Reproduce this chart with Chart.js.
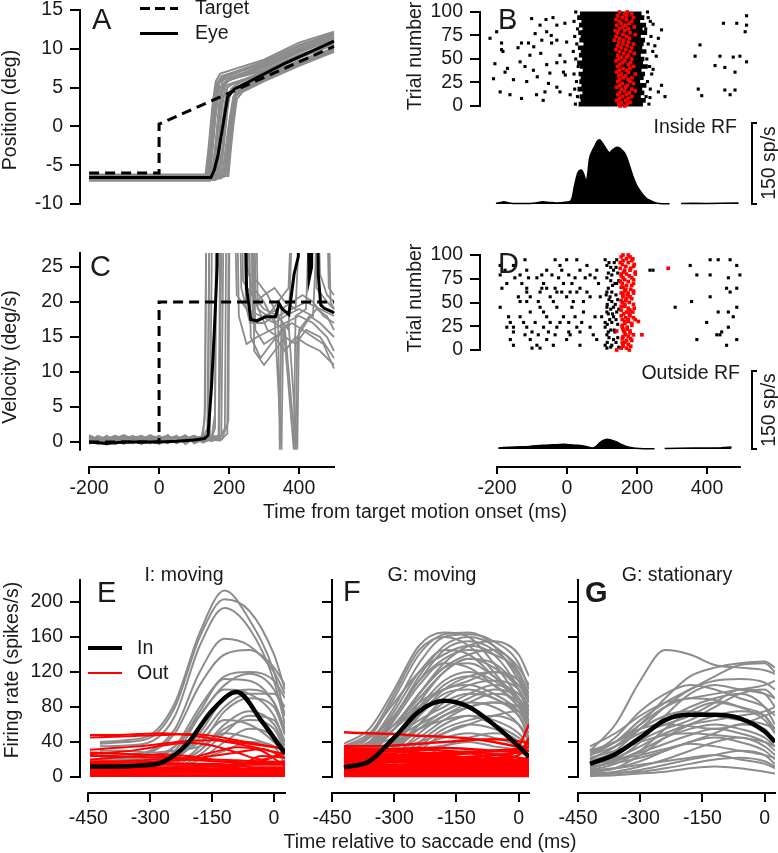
<!DOCTYPE html>
<html>
<head>
<meta charset="utf-8">
<script src="https://cdn.jsdelivr.net/npm/chart.js@4.4.0/dist/chart.umd.min.js"></script>
<style>
  html, body { margin: 0; padding: 0; background: #fff; overflow: hidden; }
  body { position: relative; width: 778px; height: 853px; font-family: "Liberation Sans", Arial, sans-serif; color: #1a1a1a; }
  canvas { position: absolute; }
  .lbl { position: absolute; white-space: nowrap; line-height: 1; }
  .key { position: absolute; }
</style>
</head>
<body>
<script>
// ---------- data ----------
// Panel A: position (deg) vs time (ms), pairs of [t, v]
const aTarget = [-200, -6, 0, -6, 0, 0.3, 500, 10.3];
const aEye = [-200, -6.6, 148, -6.6, 158, -5.6, 168, -3.8, 182, 0, 196, 3.8, 215, 4.8, 358, 8.1, 500, 11];
const aTrials = [
  [-200, -6.4, 135, -6.4, 145, -3, 155, 2, 165, 5.5, 180, 6.5, 300, 8, 400, 10, 500, 11.8],
  [-200, -6.8, 140, -6.8, 150, -3.5, 160, 1, 172, 4.8, 190, 5.8, 300, 7.5, 400, 9.5, 500, 11.2],
  [-200, -6.5, 150, -6.5, 160, -3, 170, 1.5, 182, 5, 200, 6, 300, 7.2, 400, 9.2, 500, 10.8],
  [-200, -6.9, 160, -6.9, 170, -2, 180, 2.5, 190, 5.2, 210, 5.6, 300, 6.8, 400, 8.8, 500, 10.5],
  [-200, -6.3, 170, -6.3, 180, -3, 190, 1, 200, 4.2, 215, 5, 300, 6.5, 400, 8.5, 500, 10],
  [-200, -6.6, 180, -6.6, 190, -3, 200, 0.5, 212, 3.8, 225, 4.6, 300, 6.2, 400, 8.2, 500, 9.6],
  [-200, -6.2, 190, -6.2, 200, -2.5, 210, 1.5, 220, 4, 235, 4.8, 300, 6, 400, 8, 500, 9.8],
  [-200, -7, 145, -7, 155, -2, 165, 3, 175, 6.2, 190, 6.6, 300, 8.4, 400, 10.5, 500, 12],
  [-200, -6.5, 155, -6.5, 165, -2, 175, 2.5, 185, 5.4, 200, 5.9, 300, 7.8, 400, 9.8, 500, 11.5],
  [-200, -6.7, 175, -6.7, 185, -2.5, 195, 2, 205, 4.8, 220, 5.4, 300, 7, 400, 9, 500, 10.8],
  [-200, -6.4, 198, -6.4, 205, -3, 212, 0, 222, 3.5, 240, 4.5, 300, 5.8, 400, 7.8, 500, 9.6],
  [-200, -6.6, 132, -6.6, 142, -2.5, 152, 2.5, 162, 5.8, 175, 6.8, 300, 8.6, 400, 10.8, 500, 12.2],
  [-200, -6.3, 138, -6.3, 148, -2.8, 158, 2.2, 168, 5.6, 185, 6.3, 300, 8.2, 400, 10.3, 500, 11.9],
  [-200, -6.8, 165, -6.8, 175, -2.5, 185, 2, 195, 5, 212, 5.5, 300, 7.1, 400, 9.1, 500, 10.6],
  [-200, -6.5, 185, -6.5, 195, -3, 205, 1, 216, 4.2, 230, 4.9, 300, 6.4, 400, 8.4, 500, 10.1],
  [-200, -6.9, 152, -6.9, 162, -2.2, 172, 3, 182, 6, 198, 6.2, 300, 7.9, 400, 10, 500, 11.6],
  [-200, -6.4, 195, -6.4, 202, -3.2, 210, 0.8, 220, 3.9, 238, 4.6, 300, 6.1, 400, 8.1, 500, 9.9],
  [-200, -6.6, 142, -6.6, 152, -2.6, 162, 2.4, 172, 5.7, 188, 6.1, 300, 7.7, 400, 9.7, 500, 11.4]
];

// Panel C: velocity (deg/s); 60 = off the top of the plot
const cTarget = [-200, 0, 0, 0, 0, 20, 500, 20];
const cEye = [-200, 0, -150, -0.2, -100, 0, -50, 0, 0, 0, 50, 0.1, 100, 0.3, 130, 0.5, 140, 1, 150, 8, 158, 16, 166, 25, 172, 60,
  238, 60, 250, 22, 262, 17.5, 280, 17.3, 305, 17.9, 333, 17.9, 343, 19.8, 352, 19, 362, 18.6, 371, 18.2, 386, 24, 398, 26.5,
  405, 60, 418, 60, 429, 23.3, 436, 25, 443, 60, 448, 60, 455, 24, 462, 19.6, 472, 19.1, 495, 18.6, 500, 18.4];
const cTrials = [
  [-200, 0.5, -175, -0.3, -150, 0.9, -125, 0.1, -100, 0.6, -75, -0.2, -50, 0.7, -25, 0, 0, 0.5, 25, -0.1, 50, 0.6, 75, 0.2, 100, 0.5, 120, 0.3, 130, 3, 140, 60, 215, 60, 228, 18, 250, 14, 280, 15, 320, 16, 360, 17, 400, 18, 440, 17, 480, 15, 500, 13],
  [-200, -0.3, -175, 0.6, -150, 0, -125, 0.8, -100, -0.2, -75, 0.5, -50, 0.1, -25, 0.9, 0, -0.3, 25, 0.5, 50, 0.1, 75, 0.8, 100, 0, 125, 0.4, 138, 2, 150, 60, 222, 60, 235, 22, 260, 17, 300, 18, 340, 19, 345, -1.1, 350, 19, 380, 20, 410, 21, 440, 20, 470, 18, 500, 17],
  [-200, 0.8, -175, 0.2, -150, -0.4, -125, 0.5, -100, 1, -75, 0.3, -50, -0.3, -25, 0.6, 0, 0.2, 25, 1, 50, -0.2, 75, 0.4, 100, 0.9, 125, 0.1, 145, 0.5, 158, 60, 235, 60, 248, 20, 270, 22, 300, 20, 330, 17, 360, 16, 390, -1.1, 395, 15, 420, 17, 450, 19, 480, 18, 500, 16],
  [-200, 0, -175, 0.9, -150, 0.4, -125, -0.3, -100, 0.4, -75, 0.9, -50, 0.2, -25, -0.2, 0, 0.8, 25, 0.3, 50, 0.9, 75, -0.3, 100, 0.5, 125, 0.7, 150, 0.6, 160, 4, 168, 60, 245, 60, 258, 24, 280, 23, 310, 21, 340, 18, 370, 16, 400, 60, 430, 60, 450, 22, 480, 20, 500, 19],
  [-200, 0.3, -175, -0.2, -150, 0.7, -125, 0.2, -100, -0.3, -75, 0.6, -50, 0.9, -25, 0.3, 0, -0.1, 25, 0.7, 50, 0.3, 75, 1, 100, -0.2, 125, 0.3, 150, 0.2, 170, 1, 180, 60, 250, 60, 262, 15, 290, 12, 320, 14, 350, 16, 380, 17, 410, 16, 440, 15, 470, 14, 500, 10.5],
  [-200, 1, -175, 0.4, -150, 0.1, -125, 0.9, -100, 0.3, -75, -0.1, -50, 0.4, -25, 1, 0, 0.4, 25, -0.2, 50, 0.5, 75, 0.3, 100, 0.8, 125, -0.1, 150, 0.4, 175, 0.6, 188, 2, 196, 60, 255, 60, 268, 17, 300, 17, 330, 18, 350, -1.1, 355, 17, 385, -1.1, 390, 18, 420, 19, 450, 60, 475, 60, 490, 20, 500, 19],
  [-200, -0.2, -175, 0.3, -150, 0.6, -125, 0, -100, 0.7, -75, 0.2, -50, -0.1, -25, 0.4, 0, 0.7, 25, 0.2, 50, -0.1, 75, 0.6, 100, 0.2, 125, 0.8, 150, 0.3, 175, 0.2, 195, 1.2, 203, 60, 260, 60, 272, 13, 300, 11, 330, 13, 360, 15, 390, 14, 420, 16, 460, 15, 500, 12],
  [-200, 0.6, -175, 0.1, -150, 0.3, -125, 0.7, -100, 0.1, -75, 0.4, -50, 0.6, -25, -0.1, 0, 0.3, 25, 0.8, 50, 0.2, 75, 0.1, 100, 0.6, 125, 0.5, 132, 5, 138, 60, 205, 60, 222, 21, 250, 19, 290, 18, 330, 17, 360, 18, 400, 19, 440, 18, 480, 60, 500, 60],
  [-200, 0.2, -175, 0.7, -150, -0.2, -125, 0.4, -100, 0.5, -75, 0, -50, 0.5, -25, 0.2, 0, 0.6, 25, 0, 50, 0.4, 75, 0.6, 100, 0.3, 125, 0.2, 150, 0.5, 160, 2, 165, 60, 240, 60, 252, 25, 275, 20, 310, 16, 340, 15, 370, 17, 395, -1.1, 400, 16, 430, 18, 460, 17, 500, 15],
  [-200, 0.4, -175, 0.5, -150, 0.2, -125, 0.3, -100, 0.8, -75, 0.7, -50, 0, -25, 0.5, 0, 0.1, 25, 0.4, 50, 0.7, 75, 0.5, 100, 0.7, 125, 0.6, 150, 0.8, 178, 0.9, 190, 60, 270, 60, 282, 19, 310, 18, 340, 20, 370, 22, 400, 60, 440, 60, 460, 24, 480, 21, 500, 20],
  [-200, 0.7, -175, 0, -150, 0.5, -125, 0.9, -100, 0.2, -75, 0.4, -50, 0.8, -25, 0.1, 0, 0.6, 25, 0.9, 50, 0, 75, 0.5, 100, 0.9, 125, 0.4, 140, 0.8, 148, 60, 228, 60, 240, 23, 265, 21, 300, 19, 340, 18, 380, 19, 420, 20, 460, 19, 500, 18],
  [-200, -0.1, -175, 0.4, -150, 0.8, -125, 0.2, -100, 0, -75, 0.8, -50, 0.3, -25, 0.7, 0, 0.1, 25, 0.6, 50, 0.8, 75, 0, 100, 0.4, 125, 0.9, 150, 0.1, 172, 0.5, 185, 60, 262, 60, 275, 16, 300, 14, 330, 15, 360, 13, 390, 15, 420, 14, 460, 13, 500, 11],
  [-200, 0.9, -175, 0.3, -150, 0.1, -125, 0.6, -100, 0.9, -75, 0.1, -50, 0.6, -25, 0.4, 0, 0.9, 25, 0.2, 50, 0.5, 75, 0.9, 100, 0.1, 125, 0.5, 150, 0.7, 180, 0.4, 198, 3, 205, 60, 265, 60, 276, 20, 300, 21, 330, 22, 360, 20, 390, 19, 430, 60, 470, 60, 485, 22, 500, 21]
];

// Panel B raster (inside RF): rows of [trial, spike times...]
const bSpikes = [[100, 25, 230], [96, 513], [94, 232, -40], [93, -101], [92, -60], [90, 20, 238], [88, -6, 447, 485], [87, 246], [86, -77, -29, 513],
  [84, -160], [82, 30, 225], [81, 270], [79, -201, -58, 509], [77, -91], [75, -45], [74, 22, 240], [72, -220, 261], [70, -72, -29], [68, -1],
  [67, -187, -130, -110, -44], [66, 28, 232], [65, 380], [64, 251], [63, -95], [62, -140], [60, -187], [58, -183, 18, 245], [56, -75], [54, -106, -20],
  [53, 255, 366, 437, 494], [52, 475], [50, 25, 228], [47, -134, -6, 513], [46, -29], [45, -206], [44, -58], [43, 423], [42, -120, 32, 236],
  [41, 451], [40, -170], [39, 246], [38, -96], [36, -177, -10, 480], [35, -49], [34, 20, 242], [33, -5], [31, -85], [29, -210], [28, -153],
  [26, -115, 27, 230], [24, -53], [22, 270], [20, -29], [18, 22, 238, 375], [17, 451, 480], [15, -191, -63, -20, 261], [12, -163, -87, 9, 466],
  [11, 385], [10, 30, 226, 280], [9, 237], [8, -130], [6, -68], [2, 24, 234]];
// dense burst: [trial, first spike, last spike]
const bBurst = [[98, 38, 212], [94, 30, 220], [90, 42, 208], [86, 35, 225], [82, 45, 215], [78, 33, 228], [74, 40, 210], [70, 36, 222],
  [66, 48, 218], [62, 32, 214], [58, 40, 226], [54, 35, 210], [50, 44, 220], [46, 30, 216], [42, 38, 230], [38, 46, 212], [34, 34, 222],
  [30, 40, 218], [26, 36, 208], [22, 42, 226], [18, 31, 214], [14, 45, 220], [10, 37, 210], [6, 40, 224], [2, 34, 216]];
// saccade marks: [trial, times...]
const bSacc = [[100, 150, 172], [98, 165, 185], [96, 145, 170], [94, 158, 190], [92, 140, 170], [90, 150, 185], [88, 155, 178], [86, 142, 168],
  [84, 160, 192], [82, 150, 175], [80, 138, 165], [78, 145, 180], [76, 160, 195], [74, 140, 170], [72, 150, 178], [70, 135, 162], [68, 148, 175],
  [66, 160, 190], [64, 145, 172], [62, 155, 185], [60, 140, 168], [58, 150, 180], [56, 162, 192], [54, 145, 175], [52, 155, 170], [50, 148, 185],
  [48, 140, 165], [46, 158, 182], [44, 150, 175], [42, 145, 190], [40, 160, 180], [38, 150, 170], [36, 142, 175], [34, 155, 195], [32, 148, 168],
  [30, 160, 185], [28, 150, 175], [26, 145, 180], [24, 158, 190], [22, 150, 172], [20, 142, 168], [18, 155, 185], [16, 165, 195], [14, 150, 178],
  [12, 145, 170], [10, 158, 185], [8, 150, 175], [6, 142, 168], [4, 155, 180], [2, 148, 172], [0, 152, 165]];
const bRate1 = [-203, 1, -190, 3, -180, 4, -165, 2, -146, 1, -120, 1, -90, 2, -70, 4, -50, 3, -31, 2, -10, 3, 7, 4, 15, 12, 21, 32, 31, 58, 41, 63,
  48, 55, 55, 42, 60, 60, 64, 83, 72, 98, 79, 107, 86, 116, 93, 119, 100, 114, 107, 107, 114, 100, 121, 95, 128, 99, 136, 103, 143, 105,
  150, 104, 157, 100, 164, 95, 172, 84, 179, 70, 188, 52, 198, 36, 208, 25, 217, 17, 226, 11, 236, 7, 250, 3, 264, 1, 293, 0.5];
const bRate2 = [326, 1, 360, 1.5, 400, 1, 440, 1.5, 490, 2];

// Panel D raster (outside RF)
const dSpikes = [[95, -120, -34, -1, 28, 109, 142, 409, 432, 466], [92, 120, 135], [89, -191, -153, -20, 57, 114, 352, 485], [87, 125, 140],
  [84, -177, -115, -58, -15, 37, 85, 133, 237, 246], [81, 118, 145], [79, -191, -134, -72, -43, 5, 66, 128, 371, 409, 494],
  [76, -149, -110, -86, -24, 23, 52, 80, 114, 461], [73, 125, 148], [70, -172, -129, -67, -10, 14, 90, 137, 142], [68, 130],
  [65, -186, -115, -72, -58, -34, 37, 118, 456, 485], [61, -115, -77, -29, -15, 9, 28, 57, 114, 128, 466], [58, 112, 140],
  [56, -139, -105, -48, -1, 66, 95, 123, 409], [53, 120, 145], [51, -134, -115, -82, -39, 18, 47, 128, 356], [48, 115, 138],
  [45, -191, -77, -29, 14, 114, 133, 309, 485], [43, 125, 148], [40, -105, -67, 47, 114, 142, 432, 461], [38, 118, 130],
  [35, -167, -134, -58, -10, 23, 80, 99, 133, 475], [32, 122, 140], [29, -162, -124, -91, -48, -20, 5, 42, 109, 128, 399], [27, 115, 145],
  [24, -172, -153, -115, -67, -29, 28, 66, 109, 461], [21, 125, 135], [19, -153, -100, -53, 5, 37, 118, 137, 442],
  [16, -120, -82, -34, 9, 75, 114, 428, 437], [13, 120, 145], [11, -162, -105, -58, -1, 85, 133, 371, 485], [8, 115, 140],
  [5, -153, -86, -39, 37, 109, 128, 456], [3, 125, 148], [2, -100, -77, 114]];
const dSacc = [[100, 160, 175], [98, 155, 180], [96, 170, 188], [94, 160, 185], [92, 152, 175], [90, 158, 192], [88, 168, 190], [86, 152, 182, 289],
  [84, 165, 180], [82, 162, 195], [80, 155, 170, 195], [78, 155, 178], [76, 160, 185], [74, 165, 190], [72, 152, 175], [70, 158, 190], [68, 170, 185],
  [66, 155, 160], [64, 168, 182], [62, 165, 190], [60, 155, 175, 190], [58, 160, 172], [56, 160, 180], [54, 170, 185], [52, 155, 168], [50, 158, 178],
  [48, 165, 190], [46, 155, 165], [44, 175, 192], [42, 155, 180], [40, 170, 188], [38, 162, 178], [36, 155, 180], [34, 168, 190], [32, 158, 175, 195],
  [30, 165, 175, 204], [28, 165, 185], [26, 158, 185], [24, 158, 172], [22, 160, 172], [20, 142, 162, 180], [18, 165, 180], [16, 168, 190, 214],
  [14, 160, 175], [12, 158, 182], [10, 170, 185], [8, 158, 165], [6, 160, 175], [4, 160, 182], [2, 155, 170], [0, 142, 178]];
const dRate1 = [-196, 2, -150, 4, -108, 5, -70, 7, -41, 8, -10, 9, 6, 8, 30, 7, 54, 5, 73, 2, 85, 6, 92, 11, 105, 17, 116, 19, 128, 17, 140, 14,
  155, 9, 169, 5, 190, 2, 207, 1, 230, 0.5, 250, 0.5];
const dRate2 = [279, 1, 320, 1.5, 360, 2, 400, 2, 440, 2.5, 470, 4];

// Panels E-G: firing rate (spikes/s) at fixed times relative to saccade end (ms)
const eTimes = [-446, -390, -330, -270, -210, -150, -90, -30, 26.7];
const eGrayTimes = [-422, -360, -300, -240, -180, -120, -60, 0, 26.7];
const fgTimes = [-421, -360, -300, -240, -180, -120, -60, 0, 25];
const eMean = [12, 12, 13, 17, 38, 76, 97, 64, 27];
const eIn = [
  [40, 42, 48, 85, 165, 213, 180, 120, 70], [38, 40, 45, 80, 160, 203, 190, 140, 100], [35, 36, 40, 70, 150, 193, 170, 110, 60],
  [25, 26, 30, 55, 120, 158, 150, 120, 95], [20, 22, 28, 50, 105, 140, 145, 125, 105], [15, 16, 20, 35, 80, 115, 120, 110, 90],
  [10, 10, 12, 25, 70, 105, 118, 100, 70], [8, 8, 10, 20, 50, 90, 100, 85, 50], [5, 5, 8, 15, 35, 75, 90, 80, 48],
  [12, 12, 14, 18, 30, 60, 75, 60, 35], [4, 4, 5, 10, 25, 50, 70, 65, 40], [18, 20, 22, 25, 40, 65, 60, 40, 25],
  [30, 30, 28, 30, 35, 50, 45, 35, 30], [6, 6, 6, 10, 20, 40, 55, 45, 20], [2, 2, 3, 8, 20, 30, 40, 35, 15],
  [14, 14, 16, 30, 75, 112, 110, 85, 55], [9, 9, 11, 20, 45, 80, 95, 95, 80], [22, 22, 24, 35, 70, 100, 95, 70, 40],
  [3, 3, 5, 12, 30, 55, 65, 55, 30]];
const eOut = [
  [48, 48, 49, 50, 48, 44, 40, 36, 32], [45, 46, 47, 48, 49, 47, 42, 37, 32], [31, 33, 35, 38, 41, 42, 38, 32, 26],
  [26, 28, 31, 36, 39, 36, 28, 20, 28], [20, 22, 24, 26, 24, 20, 16, 18, 30], [16, 16, 17, 18, 20, 24, 28, 32, 22],
  [12, 12, 13, 14, 14, 12, 10, 9, 10], [9, 9, 9, 9, 10, 12, 14, 16, 18], [6, 6, 6, 6, 7, 6, 5, 5, 6], [4, 4, 4, 5, 5, 6, 6, 5, 4],
  [2, 2, 2, 2, 2, 3, 3, 3, 2], [13, 13, 11, 10, 9, 9, 11, 24, 22], [18, 18, 19, 20, 20, 20, 19, 18, 17], [24, 24, 23, 22, 20, 18, 17, 16, 15],
  [1, 1, 1, 1, 1, 1, 1, 1, 1], [7, 8, 9, 10, 10, 9, 8, 7, 6], [28, 27, 26, 24, 22, 28, 34, 30, 12],
  [3, 3, 3, 3, 3, 3, 3, 3, 3], [5, 5, 5, 5, 5, 5, 5, 5, 5], [8, 8, 8, 8, 8, 8, 8, 8, 8], [10, 10, 11, 11, 12, 12, 12, 11, 11],
  [14, 14, 14, 15, 15, 15, 14, 14, 14], [17, 17, 16, 16, 15, 14, 14, 15, 16]];
const fMean = [11, 18, 45, 75, 87, 80, 60, 35, 23];
const fIn = [
  [38, 55, 100, 150, 165, 160, 130, 90, 70], [30, 45, 90, 140, 163, 165, 150, 110, 85], [25, 40, 80, 130, 160, 163, 155, 130, 100],
  [35, 50, 85, 120, 140, 150, 140, 100, 70], [20, 35, 70, 110, 135, 145, 140, 120, 95], [15, 30, 65, 105, 130, 125, 105, 80, 60],
  [28, 40, 60, 90, 120, 135, 130, 100, 75], [10, 20, 45, 80, 110, 120, 110, 85, 60], [20, 30, 55, 85, 100, 110, 120, 110, 90],
  [5, 15, 40, 70, 95, 100, 90, 70, 50], [15, 25, 45, 65, 80, 95, 105, 95, 80], [30, 35, 45, 60, 75, 90, 100, 90, 70],
  [8, 12, 30, 55, 75, 85, 80, 60, 40], [12, 18, 28, 45, 65, 80, 85, 75, 60], [25, 30, 40, 55, 65, 70, 60, 45, 35],
  [5, 10, 20, 40, 60, 70, 65, 50, 35], [18, 22, 30, 40, 50, 60, 70, 75, 65], [3, 8, 15, 30, 50, 60, 55, 40, 25],
  [10, 15, 22, 35, 45, 50, 45, 35, 25], [2, 5, 10, 20, 35, 45, 50, 40, 20], [22, 25, 28, 32, 36, 40, 35, 30, 25],
  [6, 8, 12, 18, 25, 30, 28, 22, 15], [35, 45, 70, 110, 145, 155, 145, 115, 85], [15, 28, 55, 95, 125, 140, 145, 125, 105],
  [32, 48, 95, 145, 160, 150, 120, 85, 65], [18, 32, 68, 115, 150, 160, 150, 120, 90], [22, 38, 75, 120, 145, 140, 115, 85, 60],
  [12, 25, 55, 95, 130, 150, 155, 140, 115], [8, 18, 45, 85, 120, 135, 125, 100, 75], [26, 36, 60, 95, 125, 130, 115, 90, 70],
  [4, 12, 35, 70, 100, 115, 120, 105, 85], [16, 22, 40, 75, 105, 115, 105, 80, 55], [10, 16, 32, 60, 90, 105, 110, 100, 80],
  [20, 26, 38, 55, 70, 85, 95, 85, 65], [6, 10, 25, 50, 70, 80, 85, 80, 70], [14, 20, 35, 60, 85, 95, 90, 70, 45],
  [24, 34, 55, 80, 100, 105, 95, 75, 55], [3, 6, 15, 35, 55, 65, 70, 60, 45]];
const fOut = [
  [51, 50, 49, 47, 46, 44, 40, 34, 30], [35, 35, 36, 38, 40, 42, 43, 41, 38], [33, 32, 30, 28, 27, 28, 30, 32, 34],
  [30, 30, 29, 27, 25, 22, 20, 25, 45], [28, 27, 25, 24, 23, 22, 20, 18, 16], [25, 24, 23, 22, 22, 23, 25, 28, 30],
  [22, 22, 20, 18, 16, 15, 18, 35, 60], [20, 19, 18, 17, 16, 15, 14, 12, 10], [18, 18, 17, 16, 15, 16, 18, 20, 22],
  [15, 15, 14, 14, 13, 12, 12, 13, 14], [12, 12, 12, 11, 11, 10, 10, 11, 12], [10, 10, 9, 9, 9, 9, 10, 10, 10],
  [8, 8, 8, 7, 7, 7, 8, 8, 9], [6, 6, 6, 6, 5, 5, 5, 6, 6], [4, 4, 4, 4, 4, 4, 4, 4, 4], [2, 2, 2, 2, 2, 2, 2, 2, 2],
  [27, 28, 30, 31, 30, 28, 26, 22, 20], [14, 16, 18, 20, 22, 21, 18, 15, 12],
  [31, 31, 32, 33, 33, 32, 30, 28, 26], [26, 25, 24, 24, 25, 27, 30, 32, 35], [23, 23, 22, 21, 20, 19, 18, 17, 16],
  [19, 20, 21, 22, 22, 21, 20, 19, 18], [16, 17, 17, 18, 18, 17, 16, 15, 15], [13, 13, 13, 14, 14, 14, 13, 13, 13],
  [11, 11, 11, 10, 10, 10, 11, 11, 11], [9, 9, 10, 10, 10, 9, 9, 9, 8], [7, 7, 7, 7, 7, 7, 7, 7, 7], [5, 5, 5, 5, 5, 5, 5, 5, 5],
  [3, 3, 3, 3, 3, 3, 3, 3, 3], [1, 1, 1, 1, 1, 1, 1, 1, 1], [28, 27, 26, 25, 26, 27, 22, 30, 40]];
const gMean = [15, 26, 45, 65, 71, 71, 67, 52, 40];
const gIn = [
  [30, 60, 110, 145, 140, 128, 125, 122, 118], [20, 35, 60, 90, 115, 125, 130, 132, 125], [25, 40, 65, 85, 100, 115, 128, 130, 120],
  [15, 30, 55, 80, 100, 110, 112, 108, 100], [10, 20, 40, 70, 95, 105, 100, 95, 90], [25, 45, 75, 95, 105, 100, 90, 80, 70],
  [35, 50, 70, 85, 90, 95, 100, 105, 110], [12, 25, 45, 65, 80, 90, 95, 80, 60], [8, 15, 30, 55, 75, 85, 80, 70, 55],
  [20, 35, 55, 70, 75, 70, 65, 60, 55], [18, 28, 42, 55, 65, 80, 95, 100, 90], [5, 10, 25, 45, 60, 70, 75, 70, 50],
  [30, 40, 55, 60, 58, 55, 60, 70, 75], [10, 18, 30, 45, 55, 60, 55, 45, 35], [15, 22, 35, 50, 60, 65, 70, 75, 80],
  [6, 10, 18, 30, 40, 50, 60, 55, 40], [22, 30, 40, 48, 50, 48, 45, 40, 35], [3, 6, 12, 20, 30, 40, 45, 35, 25],
  [12, 16, 22, 30, 40, 45, 40, 30, 20], [18, 20, 25, 32, 38, 35, 30, 25, 22], [2, 4, 8, 14, 20, 25, 30, 25, 15],
  [8, 10, 14, 18, 22, 25, 20, 15, 10], [4, 5, 6, 10, 15, 20, 22, 18, 12], [25, 35, 50, 60, 70, 85, 100, 95, 80],
  [14, 20, 28, 38, 48, 55, 50, 40, 30], [1, 2, 4, 6, 10, 12, 10, 6, 4], [28, 40, 60, 80, 90, 88, 80, 65, 50]];

const posTicks = [-10, -5, 0, 5, 10, 15];
const velTicks = [0, 5, 10, 15, 20, 25];
const trialTicks = [0, 25, 50, 75, 100];
const motionTicks = [-200, 0, 200, 400];
const rateTicks = [0, 40, 80, 120, 160, 200];
const saccTicks = [-450, -300, -150, 0];

// ---------- helpers ----------
const GRAY = '#8c8c8c', RED = '#ff0000', INK = '#1a1a1a';
Chart.defaults.font.family = '"Liberation Sans", Arial, sans-serif';
Chart.defaults.font.size = 19.5;
Chart.defaults.color = INK;
Chart.defaults.animation = false;

const pairs = a => { const o = []; for (let i = 0; i < a.length; i += 2) o.push({ x: a[i], y: a[i + 1] }); return o; };
const onGrid = (ts, vs) => vs.map((v, i) => ({ x: ts[i], y: v }));
const rowsToPts = rows => rows.flatMap(r => r.slice(1).map(t => ({ x: t, y: r[0] })));

function line(data, color, width, extra) {
  return Object.assign({ type: 'line', data, borderColor: color, borderWidth: width, pointRadius: 0, fill: false, tension: 0 }, extra || {});
}
function dots(data, color, r, order) {
  return { type: 'scatter', data, pointStyle: 'rect', pointRadius: r, backgroundColor: color, borderWidth: 0, order };
}

// axis lines that stop at the data range, as in the original figure
const spinePlugin = {
  id: 'spines',
  afterDatasetsDraw(chart, args, o) {
    const { ctx, chartArea: a, scales } = chart;
    ctx.save();
    ctx.strokeStyle = '#000';
    ctx.lineWidth = 2;
    if (o.y) {
      ctx.beginPath();
      ctx.moveTo(a.left, scales.y.getPixelForValue(o.y[0]) + 1);
      ctx.lineTo(a.left, scales.y.getPixelForValue(o.y[1]) - 1);
      ctx.stroke();
    }
    if (o.x) {
      ctx.beginPath();
      ctx.moveTo(scales.x.getPixelForValue(o.x[0]) - 1, a.bottom);
      ctx.lineTo(scales.x.getPixelForValue(o.x[1]) + 1, a.bottom);
      ctx.stroke();
    }
    if (o.bar) {
      const y0 = scales.y2.getPixelForValue(o.bar[0]), y1 = scales.y2.getPixelForValue(o.bar[1]);
      ctx.beginPath();
      ctx.moveTo(a.right + 5, y1);
      ctx.lineTo(a.right, y1);
      ctx.lineTo(a.right, y0);
      ctx.lineTo(a.right + 5, y0);
      ctx.stroke();
    }
    ctx.restore();
  }
};

function panel(p) {
  const pad = 20, padR = p.padR === undefined ? 16 : p.padR;
  const cv = document.createElement('canvas');
  const cLeft = p.L - p.yW - pad, cTop = p.T - pad;
  cv.width = p.R - cLeft + padR;
  cv.height = p.B + p.xH + pad - cTop;
  cv.style.left = cLeft + 'px';
  cv.style.top = cTop + 'px';
  document.body.appendChild(cv);
  const tickGrid = len => ({ display: true, offset: false, drawOnChartArea: false, drawTicks: true, tickLength: len, color: '#000', lineWidth: 2 });
  const scales = {
    x: {
      type: 'linear', min: p.x[0], max: p.x[1], offset: false, display: !!p.xTicks,
      afterFit: s => { s.height = p.xH; },
      afterBuildTicks: s => { s.ticks = (p.xTicks || []).map(v => ({ value: v })); },
      border: { display: false }, grid: tickGrid(p.xTick || 8),
      ticks: { padding: p.xPad || 1, maxRotation: 0, autoSkip: false, callback: v => String(v) }
    },
    y: {
      type: 'linear', min: p.y[0], max: p.y[1], offset: false,
      afterFit: s => { s.width = p.yW; },
      afterBuildTicks: s => { s.ticks = p.yTicks.map(v => ({ value: v })); },
      border: { display: false }, grid: tickGrid(10),
      ticks: { padding: 7, autoSkip: false, callback: v => (p.noYLabels ? '' : String(v)) }
    }
  };
  if (p.r) scales.y2 = { axis: 'y', type: 'linear', min: p.r[0], max: p.r[1], display: false, offset: false, grid: { offset: false } };
  const chart = new Chart(cv, {
    type: 'line',
    data: { datasets: p.datasets },
    options: {
      responsive: false, maintainAspectRatio: false, animation: false, events: [],
      layout: { padding: { left: pad, top: pad, right: padR, bottom: pad } },
      scales,
      plugins: { legend: { display: false }, tooltip: { enabled: false }, spines: p.spines }
    },
    plugins: [spinePlugin]
  });
  // make the plot area land exactly on the figure grid
  const ca = chart.chartArea;
  const dw = (p.R - p.L) - (ca.right - ca.left), dh = (p.B - p.T) - (ca.bottom - ca.top);
  if (Math.abs(dw) > 0.5 || Math.abs(dh) > 0.5) chart.resize(Math.round(cv.width + dw), Math.round(cv.height + dh));
  cv.style.left = (p.L - chart.chartArea.left) + 'px';
  cv.style.top = (p.T - chart.chartArea.top) + 'px';
  return chart;
}

function label(s, x, y, o) {
  o = o || {};
  const d = document.createElement('div');
  d.className = 'lbl';
  d.textContent = s;
  const ax = o.align === 'left' ? '0' : o.align === 'right' ? '-100%' : '-50%';
  d.style.left = x + 'px';
  d.style.top = y + 'px';
  d.style.fontSize = (o.size || 19.5) + 'px';
  if (o.bold) d.style.fontWeight = 'bold';
  d.style.transform = `translate(${ax},-50%)` + (o.rot ? ' rotate(-90deg)' : '');
  document.body.appendChild(d);
}
function key(x, y, w, h, bg) {
  const d = document.createElement('div');
  d.className = 'key';
  d.style.cssText = `left:${x}px;top:${y}px;width:${w}px;height:${h}px;background:${bg}`;
  document.body.appendChild(d);
}

// ---------- A: eye position ----------
panel({
  L: 80, R: 336, T: 10, B: 204, yW: 60, xH: 0, x: [-226, 505.7], y: [-10, 15], yTicks: posTicks,
  spines: { y: [-10, 15] },
  datasets: [
    line(pairs(aEye), '#000', 3, { order: 0 }),
    line(pairs(aTarget), '#000', 3, { order: 1, borderDash: [10, 6] }),
    ...aTrials.map(t => line(pairs(t), GRAY, 2, { order: 2 }))
  ]
});

// ---------- C: eye velocity ----------
panel({
  L: 80, R: 336, T: 253, B: 467, yW: 60, xH: 40, x: [-226, 505.7], y: [-3.571, 27], yTicks: velTicks,
  xTicks: motionTicks, xTick: 7, xPad: 3,
  spines: { y: [-1.1, 27], x: [-200, 500] },
  datasets: [
    line(pairs(cEye), '#000', 3, { order: 0 }),
    line(pairs(cTarget), '#000', 3, { order: 1, borderDash: [10, 6] }),
    ...cTrials.map(t => line(pairs(t), GRAY, 1.8, { order: 2 }))
  ]
});

// ---------- B: raster + PSTH inside RF ----------
panel({
  L: 480, R: 752, T: 4, B: 212, yW: 60, xH: 0, padR: 8, x: [-248.57, 528.57], y: [-112.77, 108.5], r: [-14.8, 370.4],
  yTicks: trialTicks, spines: { y: [0, 100], bar: [0, 150] },
  datasets: [
    dots(rowsToPts(bSacc), RED, 2.6, 0),
    dots(rowsToPts(bSpikes), '#000', 2.2, 1),
    { type: 'bar', indexAxis: 'y', order: 2, data: bBurst.map(([tr, a, b]) => ({ y: tr, x: [a, b] })), backgroundColor: '#000', borderWidth: 0, barThickness: 4 },
    line(pairs(bRate1), '#000', 1.5, { yAxisID: 'y2', fill: { value: 0 }, backgroundColor: '#000', cubicInterpolationMode: 'monotone', order: 3 }),
    line(pairs(bRate2), '#000', 1.5, { yAxisID: 'y2', fill: { value: 0 }, backgroundColor: '#000', order: 3 })
  ]
});

// ---------- D: raster + PSTH outside RF ----------
panel({
  L: 480, R: 752, T: 245, B: 467, yW: 60, xH: 40, padR: 8, x: [-248.57, 528.57], y: [-123.16, 110.53], r: [-34.6, 392.3],
  yTicks: trialTicks, xTicks: motionTicks, xTick: 7, xPad: 3,
  spines: { y: [0, 100], x: [-200, 494], bar: [0, 150] },
  datasets: [
    dots(rowsToPts(dSacc), RED, 2.6, 0),
    dots(rowsToPts(dSpikes), '#000', 2.2, 1),
    line(pairs(dRate1), '#000', 1.5, { yAxisID: 'y2', fill: { value: 0 }, backgroundColor: '#000', cubicInterpolationMode: 'monotone', order: 3 }),
    line(pairs(dRate2), '#000', 1.5, { yAxisID: 'y2', fill: { value: 0 }, backgroundColor: '#000', order: 3 })
  ]
});

// ---------- E, F, G: firing rate ----------
const smooth = { cubicInterpolationMode: 'monotone' };
panel({
  L: 80, R: 285, T: 580, B: 793, yW: 60, xH: 45, x: [-470.2, 26.7], y: [-18.29, 225.14], yTicks: rateTicks,
  xTicks: saccTicks, xTick: 9, xPad: 5,
  spines: { y: [0, 225.14], x: [-450, 26.7] },
  datasets: [
    line(onGrid(eTimes, eMean), '#000', 4.5, Object.assign({ order: 0 }, smooth)),
    ...eOut.map(v => line(onGrid(eTimes, v), RED, 2, Object.assign({ order: 1 }, smooth))),
    ...eIn.map(v => line(onGrid(eGrayTimes, v), GRAY, 2, Object.assign({ order: 2 }, smooth)))
  ]
});
panel({
  L: 332, R: 529, T: 580, B: 793, yW: 40, xH: 45, x: [-450, 25], y: [-18.29, 225.14], yTicks: rateTicks, noYLabels: true,
  xTicks: saccTicks, xTick: 9, xPad: 5,
  spines: { y: [0, 225.14], x: [-450, 25] },
  datasets: [
    line(onGrid(fgTimes, fMean), '#000', 4.5, Object.assign({ order: 0 }, smooth)),
    ...fOut.map(v => line(onGrid(fgTimes, v), RED, 2.5, Object.assign({ order: 1 }, smooth))),
    ...fIn.map(v => line(onGrid(fgTimes, v), GRAY, 2, Object.assign({ order: 2 }, smooth)))
  ]
});
panel({
  L: 578, R: 775, T: 580, B: 793, yW: 40, xH: 45, padR: 2, x: [-450, 25], y: [-18.29, 225.14], yTicks: rateTicks, noYLabels: true,
  xTicks: saccTicks, xTick: 9, xPad: 5,
  spines: { y: [0, 225.14], x: [-450, 25] },
  datasets: [
    line(onGrid(fgTimes, gMean), '#000', 4.5, Object.assign({ order: 0 }, smooth)),
    ...gIn.map(v => line(onGrid(fgTimes, v), GRAY, 2, Object.assign({ order: 2 }, smooth)))
  ]
});

// ---------- text ----------
label('A', 92, 19, { align: 'left', size: 29 });
label('B', 498, 19, { align: 'left', size: 29 });
label('C', 90, 266, { align: 'left', size: 29 });
label('D', 498, 263, { align: 'left', size: 29 });
label('E', 97, 592, { align: 'left', size: 29 });
label('F', 343, 591, { align: 'left', size: 29 });
label('G', 585, 592, { align: 'left', size: 29, bold: true });

key(140, 6.5, 38, 3, 'repeating-linear-gradient(90deg,#000 0 10px,transparent 10px 15px)');
label('Target', 195, 8, { align: 'left' });
key(140, 31.5, 38, 3, '#000');
label('Eye', 195, 33, { align: 'left' });

label('Position (deg)', 10, 110, { rot: true });
label('Velocity (deg/s)', 10, 357, { rot: true });
label('Trial number', 415, 56, { rot: true });
label('Trial number', 415, 298, { rot: true });
label('Inside RF', 737, 127, { align: 'right' });
label('Outside RF', 740, 373, { align: 'right' });
label('150 sp/s', 769, 163, { rot: true });
label('150 sp/s', 769, 410, { rot: true });
label('Time from target motion onset (ms)', 415, 512);

label('I: moving', 184, 575);
label('G: moving', 432, 575);
label('G: stationary', 677, 575);
key(88, 646, 34, 4, '#000');
label('In', 137, 648, { align: 'left' });
key(88, 671.5, 34, 2.5, RED);
label('Out', 137, 673, { align: 'left' });
label('Firing rate (spikes/s)', 12, 670, { rot: true });
label('Time relative to saccade end (ms)', 430, 842);
</script>
</body>
</html>
